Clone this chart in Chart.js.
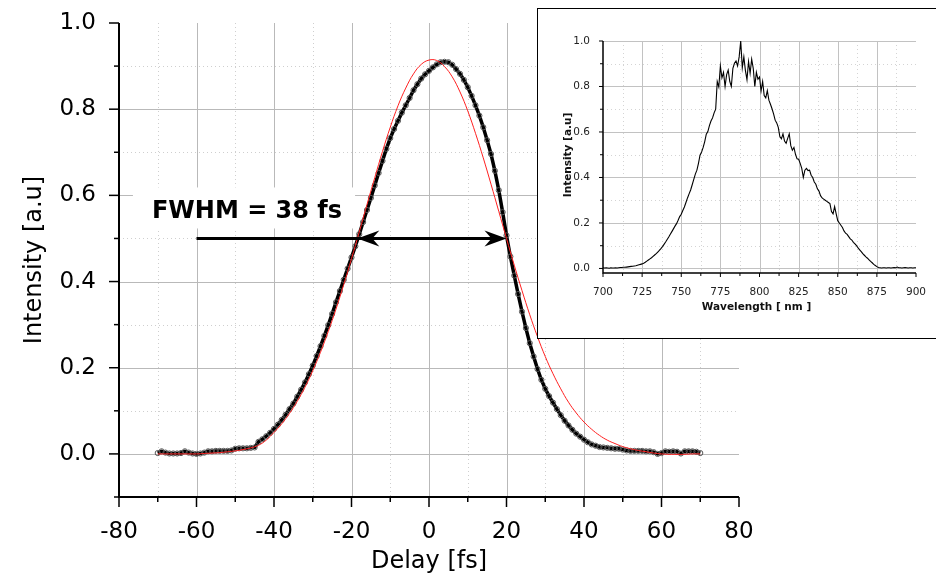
<!DOCTYPE html>
<html>
<head>
<meta charset="utf-8">
<script src="https://cdn.jsdelivr.net/npm/chart.js@4.4.1/dist/chart.umd.min.js"></script>
<style>
    html, body { margin: 0; padding: 0; background: #fff; overflow: hidden; }
    #wrap { position: relative; width: 936px; height: 580px; }
    #main { position: absolute; left: 0; top: 0; }
    #insetBox { position: absolute; left: 537px; top: 8px; width: 420px; height: 331px;
                box-sizing: border-box; border: 1px solid #000; background: #fff; }
    #inset { position: absolute; left: 0; top: 0; }
</style>
</head>
<body>
<div id="wrap">
    <canvas id="main" width="936" height="580"></canvas>
    <div id="insetBox"><canvas id="inset" width="398" height="328"></canvas></div>
</div>
<script>
// Autocorrelation trace (delay in fs, intensity a.u.)
const delay = [
    -70, -69, -68, -67, -66, -65, -64, -63, -62, -61,
    -60, -59, -58, -57, -56, -55, -54, -53, -52, -51,
    -50, -49, -48, -47, -46, -45, -44, -43, -42, -41,
    -40, -39, -38, -37, -36, -35, -34, -33, -32, -31,
    -30, -29, -28, -27, -26, -25, -24, -23, -22, -21,
    -20, -19, -18, -17, -16, -15, -14, -13, -12, -11,
    -10, -9, -8, -7, -6, -5, -4, -3, -2, -1,
    0, 1, 2, 3, 4, 5, 6, 7, 8, 9,
    10, 11, 12, 13, 14, 15, 16, 17, 18, 19,
    20, 21, 22, 23, 24, 25, 26, 27, 28, 29,
    30, 31, 32, 33, 34, 35, 36, 37, 38, 39,
    40, 41, 42, 43, 44, 45, 46, 47, 48, 49,
    50, 51, 52, 53, 54, 55, 56, 57, 58, 59,
    60, 61, 62, 63, 64, 65, 66, 67, 68, 69,
    70
];
const measured = [
    0.002, 0.006, 0.003, 0.001, 0.001, 0.001, 0.002, 0.006, 0.003, 0.001,
    0.000, 0.001, 0.003, 0.006, 0.006, 0.007, 0.007, 0.007, 0.007, 0.008,
    0.012, 0.013, 0.013, 0.013, 0.014, 0.015, 0.028, 0.034, 0.041, 0.049,
    0.058, 0.068, 0.079, 0.091, 0.104, 0.117, 0.133, 0.149, 0.166, 0.185,
    0.205, 0.227, 0.250, 0.274, 0.299, 0.325, 0.352, 0.378, 0.404, 0.430,
    0.456, 0.482, 0.510, 0.538, 0.566, 0.594, 0.623, 0.652, 0.680, 0.708,
    0.733, 0.754, 0.773, 0.792, 0.809, 0.826, 0.844, 0.858, 0.871, 0.881,
    0.889, 0.897, 0.904, 0.909, 0.910, 0.909, 0.903, 0.893, 0.882, 0.868,
    0.851, 0.831, 0.809, 0.785, 0.758, 0.728, 0.696, 0.657, 0.612, 0.561,
    0.507, 0.458, 0.414, 0.371, 0.330, 0.292, 0.257, 0.226, 0.197, 0.172,
    0.151, 0.134, 0.119, 0.104, 0.090, 0.077, 0.066, 0.056, 0.047, 0.040,
    0.033, 0.027, 0.022, 0.019, 0.016, 0.015, 0.014, 0.013, 0.012, 0.012,
    0.010, 0.008, 0.007, 0.007, 0.007, 0.007, 0.006, 0.006, 0.004, 0.000,
    0.002, 0.006, 0.005, 0.006, 0.005, 0.001, 0.006, 0.006, 0.006, 0.005,
    0.002
];

// Gaussian fit (red), sampled every 2 fs
const fitDelay = [
    -70, -68, -66, -64, -62, -60, -58, -56, -54, -52,
    -50, -48, -46, -44, -42, -40, -38, -36, -34, -32,
    -30, -28, -26, -24, -22, -20, -18, -16, -14, -12,
    -10, -8, -6, -4, -2, 0, 2, 4, 6, 8,
    10, 12, 14, 16, 18, 20, 22, 24, 26, 28,
    30, 32, 34, 36, 38, 40, 42, 44, 46, 48,
    50, 52, 54, 56, 58, 60, 62, 64, 66, 68,
    70
];
const fitValues = [
    0.000, 0.000, 0.000, 0.000, 0.000, 0.000, 0.001, 0.002, 0.003, 0.005,
    0.007, 0.010, 0.014, 0.020, 0.032, 0.050, 0.070, 0.094, 0.122, 0.155,
    0.193, 0.236, 0.284, 0.336, 0.393, 0.453, 0.515, 0.579, 0.641, 0.702,
    0.758, 0.808, 0.849, 0.882, 0.904, 0.914, 0.913, 0.899, 0.875, 0.840,
    0.796, 0.744, 0.687, 0.626, 0.563, 0.500, 0.438, 0.379, 0.323, 0.272,
    0.226, 0.186, 0.151, 0.120, 0.095, 0.074, 0.057, 0.043, 0.032, 0.024,
    0.017, 0.012, 0.008, 0.005, 0.002, 0.000, -0.001, -0.001, -0.001, 0.000,
    0.000
];

// Spectrum for the inset (wavelength nm, intensity a.u.)
const wavelength = [
    700, 701, 702, 703, 704, 705, 706, 707, 708, 709,
    710, 711, 712, 713, 714, 715, 716, 717, 718, 719,
    720, 721, 722, 723, 724, 725, 726, 727, 728, 729,
    730, 731, 732, 733, 734, 735, 736, 737, 738, 739,
    740, 741, 742, 743, 744, 745, 746, 747, 748, 749,
    750, 751, 752, 753, 754, 755, 756, 757, 758, 759,
    760, 761, 762, 763, 764, 765, 766, 767, 768, 769,
    770, 771, 772, 773, 774, 775, 776, 777, 778, 779,
    780, 781, 782, 783, 784, 785, 786, 787, 788, 789,
    790, 791, 792, 793, 794, 795, 796, 797, 798, 799,
    800, 801, 802, 803, 804, 805, 806, 807, 808, 809,
    810, 811, 812, 813, 814, 815, 816, 817, 818, 819,
    820, 821, 822, 823, 824, 825, 826, 827, 828, 829,
    830, 831, 832, 833, 834, 835, 836, 837, 838, 839,
    840, 841, 842, 843, 844, 845, 846, 847, 848, 849,
    850, 851, 852, 853, 854, 855, 856, 857, 858, 859,
    860, 861, 862, 863, 864, 865, 866, 867, 868, 869,
    870, 871, 872, 873, 874, 875, 876, 877, 878, 879,
    880, 881, 882, 883, 884, 885, 886, 887, 888, 889,
    890, 891, 892, 893, 894, 895, 896, 897, 898, 899,
    900
];
const spectrum = [
    0.003, 0.002, 0.003, 0.002, 0.001, 0.003, 0.002, 0.002, 0.003, 0.002,
    0.003, 0.004, 0.004, 0.005, 0.005, 0.006, 0.007, 0.008, 0.009, 0.010,
    0.011, 0.012, 0.014, 0.016, 0.018, 0.020, 0.023, 0.027, 0.032, 0.037,
    0.042, 0.047, 0.053, 0.059, 0.065, 0.072, 0.079, 0.087, 0.096, 0.106,
    0.116, 0.127, 0.138, 0.150, 0.162, 0.174, 0.186, 0.197, 0.212, 0.228,
    0.238, 0.255, 0.270, 0.290, 0.310, 0.328, 0.345, 0.368, 0.392, 0.415,
    0.432, 0.462, 0.498, 0.512, 0.532, 0.558, 0.590, 0.602, 0.628, 0.648,
    0.662, 0.684, 0.700, 0.822, 0.798, 0.890, 0.838, 0.862, 0.800, 0.852,
    0.872, 0.822, 0.800, 0.880, 0.902, 0.912, 0.890, 0.930, 1.000, 0.882,
    0.930, 0.870, 0.830, 0.910, 0.858, 0.920, 0.880, 0.800, 0.862, 0.832,
    0.842, 0.780, 0.822, 0.760, 0.750, 0.782, 0.740, 0.722, 0.702, 0.680,
    0.652, 0.640, 0.620, 0.580, 0.570, 0.592, 0.560, 0.550, 0.572, 0.592,
    0.540, 0.520, 0.532, 0.502, 0.482, 0.480, 0.462, 0.440, 0.400, 0.432,
    0.440, 0.430, 0.432, 0.410, 0.400, 0.380, 0.370, 0.350, 0.340, 0.320,
    0.310, 0.305, 0.300, 0.295, 0.290, 0.285, 0.250, 0.240, 0.272, 0.240,
    0.210, 0.200, 0.190, 0.180, 0.165, 0.155, 0.150, 0.140, 0.130, 0.125,
    0.115, 0.108, 0.100, 0.090, 0.082, 0.074, 0.065, 0.058, 0.051, 0.045,
    0.038, 0.031, 0.025, 0.018, 0.013, 0.008, 0.004, 0.003, 0.002, 0.003,
    0.003, 0.002, 0.003, 0.003, 0.002, 0.003, 0.004, 0.003, 0.006, 0.003,
    0.003, 0.002, 0.003, 0.004, 0.003, 0.002, 0.003, 0.003, 0.002, 0.003,
    0.003
];
const insetYTicks = [0, 0.1, 0.2, 0.3, 0.4, 0.5, 0.6, 0.7, 0.8, 0.9, 1.0];

// FWHM annotation (data units)
const fwhmLevel = 0.5;
const fwhmLeft = -18.5;
const fwhmRight = 20;
const arrowStart = -60;
const fwhmText = 'FWHM = 38 fs';
const fwhmTextX = -71.5;

const FONT = '"DejaVu Sans", "Liberation Sans", Arial, sans-serif';

function pairs(xs, ys) {
    return xs.map((x, i) => ({ x: x, y: ys[i] }));
}

function crisp(v) {
    return Math.round(v) + 0.5;
}

function near(v, step) {
    return Math.abs(v / step - Math.round(v / step)) < 1e-6;
}

// grid + axes + tick marks, drawn by hand so major/minor can differ
function frame(opts) {
    return {
        id: 'frame_' + opts.name,
        beforeDatasetsDraw(chart) {
            const { ctx, chartArea: a, scales: { x, y } } = chart;
            ctx.save();
            ctx.lineWidth = 1;
            x.ticks.forEach(t => {
                const v = t.value;
                if (v <= x.min + 1e-6 || v >= x.max - 1e-6) return;
                const px = crisp(x.getPixelForValue(v));
                const major = opts.xMajor(v);
                ctx.strokeStyle = major ? opts.majorColor : opts.minorColor;
                ctx.setLineDash(major ? [] : [1, 3]);
                ctx.beginPath();
                ctx.moveTo(px, a.top);
                ctx.lineTo(px, a.bottom);
                ctx.stroke();
            });
            y.ticks.forEach(t => {
                const v = t.value;
                if (v <= y.min + 1e-6 || (!opts.topLine && v >= y.max - 1e-6)) return;
                const py = crisp(y.getPixelForValue(v));
                const major = opts.yMajor(v);
                ctx.strokeStyle = major ? opts.majorColor : opts.minorColor;
                ctx.setLineDash(major ? [] : [1, 3]);
                ctx.beginPath();
                ctx.moveTo(a.left, py);
                ctx.lineTo(a.right, py);
                ctx.stroke();
            });
            ctx.restore();
            if (opts.beforeData) opts.beforeData(chart);
        },
        afterDatasetsDraw(chart) {
            const { ctx, chartArea: a, scales: { x, y } } = chart;
            if (opts.afterData) opts.afterData(chart);
            ctx.save();
            ctx.setLineDash([]);
            ctx.strokeStyle = '#000';
            ctx.lineWidth = opts.axisWidth;
            ctx.beginPath();
            ctx.moveTo(a.left, a.top);
            ctx.lineTo(a.left, a.bottom);
            ctx.lineTo(a.right, a.bottom);
            ctx.stroke();
            ctx.lineWidth = opts.tickWidth;
            x.ticks.forEach(t => {
                const px = x.getPixelForValue(t.value);
                const len = opts.xMajor(t.value) ? opts.majorTick : opts.minorTick;
                ctx.beginPath();
                ctx.moveTo(px, a.bottom);
                ctx.lineTo(px, a.bottom + len);
                ctx.stroke();
            });
            y.ticks.forEach(t => {
                const py = y.getPixelForValue(t.value);
                const len = opts.yMajor(t.value) ? opts.majorTick : opts.minorTick;
                ctx.beginPath();
                ctx.moveTo(a.left, py);
                ctx.lineTo(a.left - len, py);
                ctx.stroke();
            });
            // axis titles
            ctx.fillStyle = opts.titleColor;
            ctx.font = opts.titleFont;
            ctx.textAlign = 'center';
            ctx.textBaseline = 'middle';
            ctx.fillText(opts.xTitle, (a.left + a.right) / 2 + opts.xTitleDx, a.bottom + opts.xTitleDy);
            ctx.translate(a.left - opts.yTitleDx, (a.top + a.bottom) / 2 + opts.yTitleDy);
            ctx.rotate(-Math.PI / 2);
            ctx.fillText(opts.yTitle, 0, 0);
            ctx.restore();
        }
    };
}

// white label box behind the FWHM text
function labelBox(chart) {
    const { ctx, scales: { x, y } } = chart;
    ctx.save();
    ctx.font = 'bold 24px ' + FONT;
    const tx = x.getPixelForValue(fwhmTextX);
    const base = y.getPixelForValue(fwhmLevel) - 20;
    const w = ctx.measureText(fwhmText).width;
    ctx.fillStyle = '#fff';
    ctx.fillRect(tx - 19, base - 31, w + 32, 41);
    ctx.restore();
}

// double arrow at half maximum plus the label
function fwhmArrow(chart) {
    const { ctx, scales: { x, y } } = chart;
    const py = y.getPixelForValue(fwhmLevel);
    const x0 = x.getPixelForValue(arrowStart);
    const xl = x.getPixelForValue(fwhmLeft);
    const xr = x.getPixelForValue(fwhmRight);
    ctx.save();
    ctx.strokeStyle = '#000';
    ctx.fillStyle = '#000';
    ctx.lineWidth = 3;
    ctx.beginPath();
    ctx.moveTo(x0, py);
    ctx.lineTo(xr - 10, py);
    ctx.stroke();
    ctx.beginPath();
    ctx.moveTo(xl, py);
    ctx.lineTo(xl + 22, py - 8);
    ctx.lineTo(xl + 15, py);
    ctx.lineTo(xl + 22, py + 8);
    ctx.closePath();
    ctx.fill();
    ctx.beginPath();
    ctx.moveTo(xr, py);
    ctx.lineTo(xr - 22, py - 8);
    ctx.lineTo(xr - 15, py);
    ctx.lineTo(xr - 22, py + 8);
    ctx.closePath();
    ctx.fill();
    ctx.font = 'bold 24px ' + FONT;
    ctx.textAlign = 'left';
    ctx.textBaseline = 'alphabetic';
    ctx.fillText(fwhmText, x.getPixelForValue(fwhmTextX), py - 20);
    ctx.restore();
}

const mainFrame = frame({
    name: 'main',
    xMajor: v => near(v, 20),
    yMajor: v => near(v, 0.2),
    majorColor: '#b9b9b9',
    minorColor: '#cfcfcf',
    topLine: false,
    axisWidth: 2,
    tickWidth: 1.5,
    majorTick: 10,
    minorTick: 5,
    titleColor: '#000',
    titleFont: '24px ' + FONT,
    xTitle: 'Delay [fs]',
    xTitleDx: 0,
    xTitleDy: 65,
    yTitle: 'Intensity [a.u]',
    yTitleDx: 84,
    yTitleDy: 0,
    beforeData: labelBox,
    afterData: fwhmArrow
});

new Chart(document.getElementById('main'), {
    type: 'line',
    data: {
        datasets: [
            {
                label: 'Fit',
                data: pairs(fitDelay, fitValues),
                borderColor: '#ff2020',
                borderWidth: 1,
                pointRadius: 0,
                tension: 0.4,
                order: 0
            },
            {
                label: 'Measured',
                data: pairs(delay, measured),
                borderColor: '#000',
                borderWidth: 3.5,
                pointRadius: 2.6,
                pointBorderWidth: 1,
                pointBorderColor: '#555',
                pointBackgroundColor: 'rgba(255,255,255,0)',
                tension: 0,
                order: 1
            }
        ]
    },
    options: {
        responsive: false,
        animation: false,
        devicePixelRatio: 1,
        layout: { padding: { top: 23, right: 197, left: 0, bottom: 0 } },
        plugins: { legend: { display: false }, tooltip: { enabled: false } },
        scales: {
            x: {
                type: 'linear',
                min: -80,
                max: 80,
                grid: { display: false },
                border: { display: false },
                afterFit: s => { s.height = 83; s.paddingLeft = 0; s.paddingRight = 0; },
                ticks: {
                    stepSize: 10,
                    autoSkip: false,
                    maxRotation: 0,
                    padding: 13,
                    color: '#000',
                    font: { family: FONT, size: 23 },
                    callback: v => near(v, 20) ? String(Math.round(v)) : ''
                }
            },
            y: {
                type: 'linear',
                min: -0.1,
                max: 1.0,
                grid: { display: false },
                border: { display: false },
                afterFit: s => { s.width = 119; s.paddingTop = 0; s.paddingBottom = 0; },
                ticks: {
                    stepSize: 0.1,
                    autoSkip: false,
                    padding: 15,
                    color: '#000',
                    font: { family: FONT, size: 23 },
                    callback: v => (near(v, 0.2) && v > -0.05) ? v.toFixed(1) : ''
                }
            }
        }
    },
    plugins: [mainFrame]
});

const insetFrame = frame({
    name: 'inset',
    xMajor: v => near(v - 700, 25),
    yMajor: v => near(v, 0.2),
    majorColor: '#c2c2c2',
    minorColor: '#d4d4d4',
    topLine: true,
    axisWidth: 1.5,
    tickWidth: 1,
    majorTick: 4,
    minorTick: 3,
    titleColor: '#111',
    titleFont: 'bold 10.5px ' + FONT,
    xTitle: 'Wavelength [ nm ]',
    xTitleDx: -3,
    xTitleDy: 34,
    yTitle: 'Intensity [a.u]',
    yTitleDx: 35,
    yTitleDy: -2
});

new Chart(document.getElementById('inset'), {
    type: 'line',
    data: {
        datasets: [{
            label: 'Spectrum',
            data: pairs(wavelength, spectrum),
            borderColor: '#000',
            borderWidth: 1.1,
            pointRadius: 0,
            tension: 0
        }]
    },
    options: {
        responsive: false,
        animation: false,
        devicePixelRatio: 1,
        layout: { padding: { top: 32, right: 20, left: 0, bottom: 0 } },
        plugins: { legend: { display: false }, tooltip: { enabled: false } },
        scales: {
            x: {
                type: 'linear',
                min: 700,
                max: 900,
                grid: { display: false },
                border: { display: false },
                afterFit: s => { s.height = 64; s.paddingLeft = 0; s.paddingRight = 0; },
                ticks: {
                    stepSize: 12.5,
                    autoSkip: false,
                    maxRotation: 0,
                    padding: 5,
                    color: '#222',
                    font: { family: FONT, size: 10.5 },
                    callback: v => near(v - 700, 25) ? String(Math.round(v)) : ''
                }
            },
            y: {
                type: 'linear',
                min: -0.02,
                max: 1.0,
                grid: { display: false },
                border: { display: false },
                afterFit: s => { s.width = 65; s.paddingTop = 0; s.paddingBottom = 0; },
                afterBuildTicks: s => { s.ticks = insetYTicks.map(v => ({ value: v })); },
                ticks: {
                    autoSkip: false,
                    padding: 5,
                    color: '#222',
                    font: { family: FONT, size: 10.5 },
                    callback: v => near(v, 0.2) ? v.toFixed(1) : ''
                }
            }
        }
    },
    plugins: [insetFrame]
});
</script>
</body>
</html>
